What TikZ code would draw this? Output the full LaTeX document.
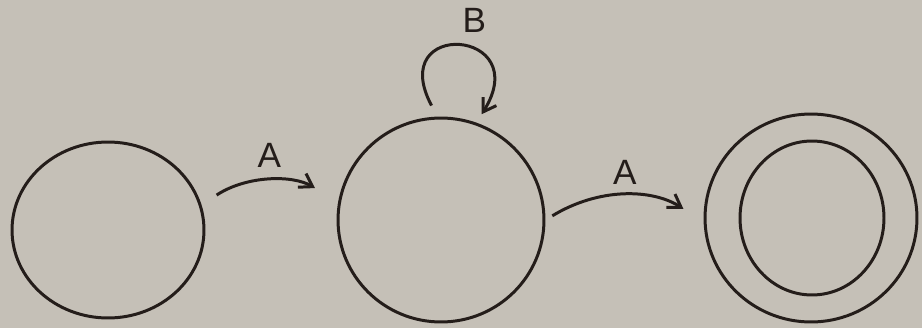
\documentclass[tikz,border=0pt]{standalone}
\usepackage{fontspec}
\setsansfont{Liberation Sans}
\usepackage{tikz}
\usetikzlibrary{arrows.meta,shapes.geometric}
\definecolor{wall}{RGB}{197,192,183}
\definecolor{ink}{RGB}{36,29,26}

\begin{document}
\begin{tikzpicture}[x=0.02cm,y=-0.02cm,
    state/.style={draw=ink,ellipse,line width=1.7pt,inner sep=0pt},
    trans/.style={-{Straight Barb[length=7pt,width=9pt]},line width=1.7pt,ink},
    lbl/.style={font=\fontsize{20}{24}\selectfont\sffamily,text=ink}
]
\fill[wall] (0,0) rectangle (922,328);
\useasboundingbox (0,0) rectangle (922,328);
\node[state,minimum width=3.84cm,minimum height=3.52cm] (q0) at (108,230) {};
\node[state,minimum width=4.12cm,minimum height=4.08cm] (q1) at (441,220) {};
\node[state,minimum width=4.24cm,minimum height=4.16cm] (q2) at (811,218) {};
\node[state,minimum width=2.88cm,minimum height=3.08cm] (q2in) at (812,218) {};
\draw[trans,shorten <=0.36cm,shorten >=0.54cm] (q0.15) to[bend left=32]
    node[lbl,midway,above=0.14cm] (a1) {A} (q1.170);
\draw[trans,shorten <=0.16cm,shorten >=0.48cm] (q1.0) to[bend left=32]
    node[lbl,midway,above=0.08cm] (a2) {A} (q2.182);
\draw[trans,shorten <=0.25cm,shorten >=0.2cm] (q1.92) to[out=118,in=58,looseness=7.2]
    node[lbl,midway,above=0.16cm,xshift=0.3cm] (b) {B} (q1.70);
\end{tikzpicture}
\end{document}
